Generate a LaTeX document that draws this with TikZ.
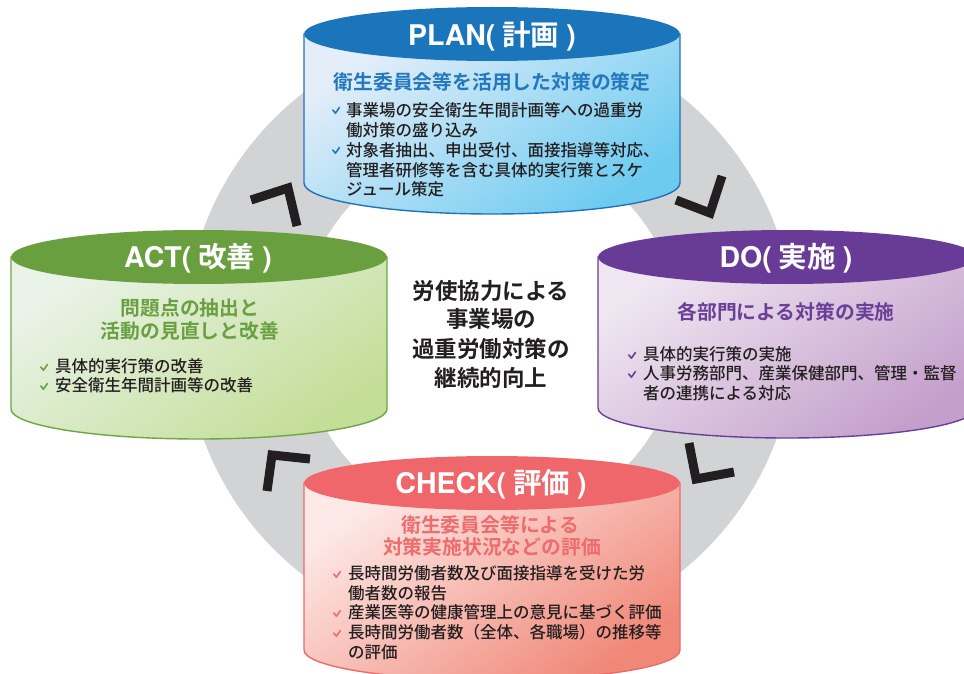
\documentclass[tikz,border=0pt]{standalone}
\usepackage{fontspec}
\newfontfamily\jp{Noto Sans CJK JP Medium}
\newfontfamily\jpb{Noto Sans CJK JP Bold}
\newfontfamily\heros{TeX Gyre Heros}
\definecolor{ink}{HTML}{231F20}
\definecolor{ringgray}{HTML}{D1D3D4}
\definecolor{plancap}{HTML}{1B75BB}
\definecolor{planborder}{HTML}{2272B9}
\definecolor{planlight}{HTML}{E4EEF9}
\definecolor{plandark}{HTML}{6DCBF0}
\definecolor{planhd}{HTML}{2478BE}
\definecolor{docap}{HTML}{683C96}
\definecolor{doborder}{HTML}{6A3F98}
\definecolor{dolight}{HTML}{EFE6F1}
\definecolor{dodark}{HTML}{C49FCB}
\definecolor{dohd}{HTML}{6B3F98}
\definecolor{actcap}{HTML}{6A9F3F}
\definecolor{actborder}{HTML}{6FA544}
\definecolor{actlight}{HTML}{E9F3E8}
\definecolor{actdark}{HTML}{C3DE97}
\definecolor{acthd}{HTML}{6BA042}
\definecolor{chkcap}{HTML}{EF676B}
\definecolor{chkborder}{HTML}{EB6A6C}
\definecolor{chklight}{HTML}{FDE9E7}
\definecolor{chkdark}{HTML}{F08878}
\definecolor{chkhd}{HTML}{EE6B6E}
\newcommand\ttlL[1]{{\heros\bfseries #1}}
% cx, ytop, ybot, rx, ry-bottom, cap, border, light, dark
\newcommand\cyl[9]{%
  \draw[bodyline, draw=#7, top color=#8, bottom color=#9, shading angle=35]
    ({#1-#4},#2) -- ({#1-#4},#3) arc[start angle=180, end angle=360, x radius=#4pt, y radius=#5pt]
    -- ({#1+#4},#2) -- cycle;
  \fill[#6] (#1,#2) ellipse[x radius=#4pt, y radius=27pt];
}
\newcommand\ckm[3]{\draw[ckline, draw=#3] ({#1-3.2},{#2-1}) -- ({#1-0.6},{#2+2.2}) -- ({#1+3.4},{#2-3.4});}
\begin{document}
\begin{tikzpicture}[x=1pt, y=-1pt,
  ln/.style={inner sep=0pt, anchor=west, text height=14.5pt, text depth=2pt, font=\jp\fontsize{16.5pt}{20pt}\selectfont, text=ink},
  hd/.style={inner sep=0pt, text height=17.4pt, text depth=2.4pt, font=\jpb\fontsize{19.8pt}{24pt}\selectfont},
  ctr/.style={inner sep=0pt, text height=19.8pt, text depth=2.7pt, font=\jpb\fontsize{22.5pt}{27pt}\selectfont, text=ink},
  ttl/.style={inner sep=0pt, text height=25pt, text depth=3.5pt, text=white, font=\fontsize{28.5pt}{32pt}\selectfont},
  ckline/.style={line width=1.6pt, line cap=round, line join=round},
  chev/.style={draw=ink, line width=9pt, line join=miter},
  bodyline/.style={line width=1.4pt}]
\useasboundingbox (0,0) rectangle (964,674);
\clip (0,0) rectangle (964,674);
\fill[white] (0,0) rectangle (964,674);
% ring
\fill[ringgray, even odd rule] (490,334) circle[radius=305pt] (490,334) circle[radius=190pt];
% direction chevrons
\draw[chev] (251,200) -- (288,188) -- (297,226);
\draw[chev] (676,200) -- (710,213) -- (722,176);
\draw[chev] (689,443) -- (696,479) -- (734,472);
\draw[chev] (310,459) -- (272,455) -- (267,491);
% cylinders
\cyl{492}{34}{183}{188}{31}{plancap}{planborder}{planlight}{plandark}
\cyl{787}{257}{408}{189}{30}{docap}{doborder}{dolight}{dodark}
\cyl{199}{257}{409}{188}{30}{actcap}{actborder}{actlight}{actdark}
\cyl{492}{483}{650}{188}{30}{chkcap}{chkborder}{chklight}{chkdark}
% PLAN
\node[ttl] (plant) at (492,35) {\ttlL{PLAN(}\hspace{7pt}{\jpb 計画}\hspace{7pt}\ttlL{)}};
\node[hd, text=planhd] (planh) at (492,82) {衛生委員会等を活用した対策の策定};
\node[ln] (p1) at (346,110) {事業場の安全衛生年間計画等への過重労};
\node[ln] (p2) at (346,130) {働対策の盛り込み};
\node[ln] (p3) at (346,150) {対象者抽出、申出受付、面接指導等対応、};
\node[ln] (p4) at (346,170) {管理者研修等を含む具体的実行策とスケ};
\node[ln] (p5) at (346,189) {ジュール策定};
\ckm{336}{111}{planhd}
\ckm{336}{151}{planhd}
% DO
\node[ttl] (dot) at (786,257) {\ttlL{DO(}\hspace{7pt}{\jpb 実施}\hspace{7pt}\ttlL{)}};
\node[hd, text=dohd] (doh) at (786,312) {各部門による対策の実施};
\node[ln] (d1) at (643,354) {具体的実行策の実施};
\node[ln] (d2) at (643,373) {人事労務部門、産業保健部門、管理・監督};
\node[ln] (d3) at (643,393) {者の連携による対応};
\ckm{632}{356}{dohd}
\ckm{632}{375}{dohd}
% ACT
\node[ttl] (actt) at (198,257) {\ttlL{ACT(}\hspace{7pt}{\jpb 改善}\hspace{7pt}\ttlL{)}};
\node[hd, text=acthd] (acth1) at (190,308) {問題点の抽出と};
\node[hd, text=acthd] (acth2) at (190,331) {活動の見直しと改善};
\node[ln] (a1) at (55,366) {具体的実行策の改善};
\node[ln] (a2) at (55,385) {安全衛生年間計画等の改善};
\ckm{44}{368}{acthd}
\ckm{44}{387}{acthd}
% CHECK
\node[ttl] (chkt) at (491,483) {\ttlL{CHECK(}\hspace{7pt}{\jpb 評価}\hspace{7pt}\ttlL{)}};
\node[hd, text=chkhd] (chkh1) at (490,525) {衛生委員会等による};
\node[hd, text=chkhd] (chkh2) at (492,547) {対策実施状況などの評価};
\node[ln] (c1) at (348,573) {長時間労働者数及び面接指導を受けた労};
\node[ln] (c2) at (348,593) {働者数の報告};
\node[ln] (c3) at (348,612) {産業医等の健康管理上の意見に基づく評価};
\node[ln] (c4) at (348,632) {長時間労働者数（全体、各職場）の推移等};
\node[ln] (c5) at (348,652) {の評価};
\ckm{337}{575}{chkhd}
\ckm{337}{614}{chkhd}
\ckm{337}{634}{chkhd}
% centre
\node[ctr] (m1) at (491,291) {労使協力による};
\node[ctr] (m2) at (491,319) {事業場の};
\node[ctr] (m3) at (491,349) {過重労働対策の};
\node[ctr] (m4) at (491,378) {継続的向上};
\end{tikzpicture}
\end{document}
